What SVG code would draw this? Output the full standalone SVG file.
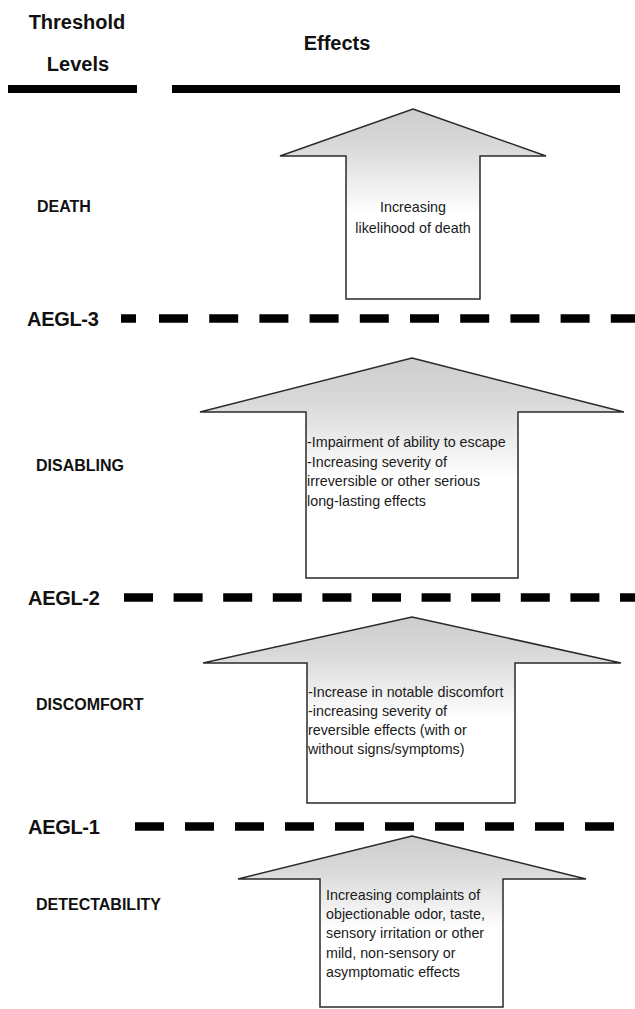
<svg xmlns="http://www.w3.org/2000/svg" width="635" height="1009" viewBox="0 0 635 1009">
  <style>
    .hdr { font-family: "Liberation Sans", Arial, sans-serif; font-weight: bold; font-size: 20px; fill: #111; }
    .lvl { font-family: "Liberation Sans", Arial, sans-serif; font-weight: bold; font-size: 16px; fill: #111; }
    .aegl { font-family: "Liberation Sans", Arial, sans-serif; font-weight: bold; font-size: 20px; fill: #111; letter-spacing: -0.3px; }
    .txt { font-family: "Liberation Sans", Arial, sans-serif; font-size: 14.3px; fill: #1a1a1a; }
    .arrow { fill: url(#grad); stroke: #2a2a2a; stroke-width: 1.5; stroke-linejoin: miter; }
    .dash { stroke: #000; stroke-width: 8.5; fill: none; }
  </style>
  <defs>
    <linearGradient id="grad" x1="0" y1="0" x2="0" y2="1">
      <stop offset="0" stop-color="#cdcdcd"/>
      <stop offset="0.2" stop-color="#d9d9d9"/>
      <stop offset="0.55" stop-color="#ffffff"/>
      <stop offset="1" stop-color="#ffffff"/>
    </linearGradient>
  </defs>
  <rect width="635" height="1009" fill="#ffffff"/>

  <g id="header">
    <text class="hdr" x="77" y="29" text-anchor="middle">Threshold</text>
    <text class="hdr" x="78" y="71" text-anchor="middle">Levels</text>
    <text class="hdr" x="337" y="50" text-anchor="middle">Effects</text>
    <rect x="8" y="85" width="129" height="8" fill="#000"/>
    <rect x="172" y="85" width="448" height="8" fill="#000"/>
  </g>

  <g id="connectors">
    <g id="aegl3-line">
      <line class="dash" x1="121" y1="318.5" x2="136" y2="318.5"/>
      <line class="dash" x1="159" y1="318.5" x2="635" y2="318.5" stroke-dasharray="29 21.2"/>
    </g>
    <g id="aegl2-line">
      <line class="dash" x1="124" y1="597.5" x2="635" y2="597.5" stroke-dasharray="29 20.6"/>
    </g>
    <g id="aegl1-line">
      <line class="dash" x1="135" y1="826.5" x2="635" y2="826.5" stroke-dasharray="29 21"/>
    </g>
  </g>

  <g id="aegl3"><text class="aegl" x="27" y="326">AEGL-3</text></g>
  <g id="aegl2"><text class="aegl" x="28" y="605">AEGL-2</text></g>
  <g id="aegl1"><text class="aegl" x="28" y="834">AEGL-1</text></g>

  <g id="death">
    <text class="lvl" x="37" y="212">DEATH</text>
    <path class="arrow" d="M413,109 L546,156 L480,156 L480,299 L346,299 L346,156 L280,156 Z"/>
    <text class="txt" x="413" y="212" text-anchor="middle">Increasing</text>
    <text class="txt" x="413" y="233" text-anchor="middle">likelihood of death</text>
  </g>

  <g id="disabling">
    <text class="lvl" x="36" y="471">DISABLING</text>
    <path class="arrow" d="M412,358 L624,412 L518,412 L518,578 L306,578 L306,412 L200,412 Z"/>
    <text class="txt" x="307" y="447">-Impairment of ability to escape</text>
    <text class="txt" x="307" y="466.5">-Increasing severity of</text>
    <text class="txt" x="307" y="486">irreversible or other serious</text>
    <text class="txt" x="307" y="505.5">long-lasting effects</text>
  </g>

  <g id="discomfort">
    <text class="lvl" x="36" y="710">DISCOMFORT</text>
    <path class="arrow" d="M412,617 L621,663 L515,663 L515,803 L307,803 L307,663 L203,663 Z"/>
    <text class="txt" x="308" y="697">-Increase in notable discomfort</text>
    <text class="txt" x="308" y="716">-increasing severity of</text>
    <text class="txt" x="308" y="735">reversible effects (with or</text>
    <text class="txt" x="308" y="754">without signs/symptoms)</text>
  </g>

  <g id="detectability">
    <text class="lvl" x="36" y="910">DETECTABILITY</text>
    <path class="arrow" d="M412,836 L586,879 L503,879 L503,1007 L320,1007 L320,879 L238,879 Z"/>
    <text class="txt" x="326" y="900">Increasing complaints of</text>
    <text class="txt" x="326" y="919">objectionable odor, taste,</text>
    <text class="txt" x="326" y="938">sensory irritation or other</text>
    <text class="txt" x="326" y="958">mild, non-sensory or</text>
    <text class="txt" x="326" y="977">asymptomatic effects</text>
  </g>
</svg>
